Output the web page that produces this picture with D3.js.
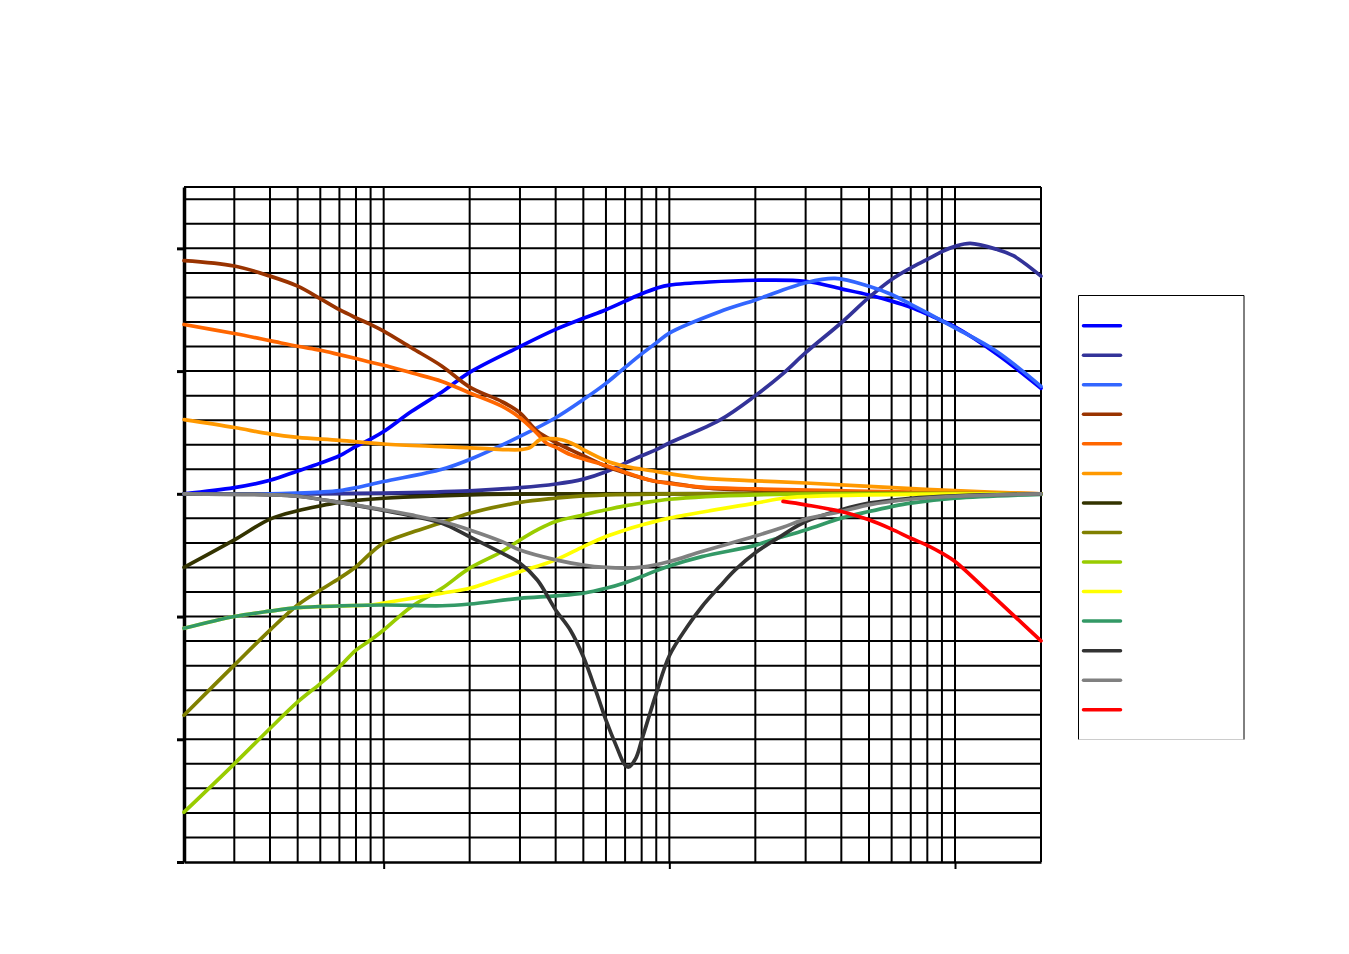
<!DOCTYPE html>
<html>
<head>
<meta charset="utf-8">
<script src="https://cdn.jsdelivr.net/npm/d3@7"></script>
<style>
  html, body { margin: 0; padding: 0; background: #ffffff; }
  svg { display: block; }
</style>
</head>
<body>
<svg id="chart" width="1349" height="954"></svg>
<script>
// ---- data (frequency in Hz, level in dB) ----
const xDomain = [20, 20000];
const yDomain = [-15, 12.5];
const xMajorTicks = [100, 1000, 10000];
const yMajorTicks = [-15, -10, -5, 0, 5, 10];
const seriesColors = ["#0000FF", "#333399", "#3366FF", "#993300", "#FF6600", "#FF9900", "#333300",
                      "#808000", "#99CC00", "#FFFF00", "#339966", "#333333", "#808080", "#FF0000"];

const s1 = [[20,0],[30,0.25],[40,0.55],[50,0.93],[60,1.25],[70,1.55],[80,1.93],[90,2.23],[100,2.54],[125,3.35],[160,4.15],[200,4.95],[300,6.0],[400,6.7],[500,7.15],[600,7.5],[700,7.85],[800,8.15],[900,8.37],[1000,8.5],[2000,8.7],[3000,8.66],[4000,8.35],[5000,8.1],[6000,7.85],[7000,7.6],[8000,7.32],[9000,7.05],[10000,6.8],[14000,5.7],[20000,4.3]];
const s2 = [[20,0],[50,0],[100,0.03],[200,0.12],[300,0.25],[400,0.4],[500,0.6],[600,0.9],[700,1.25],[800,1.55],[900,1.8],[1000,2.07],[1500,3.0],[2000,4.0],[2500,4.9],[3000,5.75],[4000,6.97],[5000,8.0],[6000,8.73],[7000,9.2],[8000,9.55],[9000,9.87],[10000,10.08],[11300,10.2],[14000,9.96],[16000,9.7],[20000,8.87]];
const s3 = [[20,0],[40,0],[50,0.03],[60,0.07],[70,0.13],[80,0.25],[100,0.5],[160,1.0],[200,1.4],[300,2.34],[400,3.1],[500,3.84],[600,4.5],[700,5.15],[800,5.7],[900,6.15],[1000,6.55],[1500,7.42],[2000,7.9],[3000,8.6],[3800,8.78],[5000,8.46],[6000,8.12],[7000,7.72],[8000,7.37],[9000,7.05],[10000,6.76],[14000,5.8],[20000,4.38]];
const s4 = [[20,9.5],[30,9.28],[40,8.87],[50,8.46],[60,7.95],[70,7.5],[80,7.17],[90,6.9],[100,6.63],[125,5.95],[160,5.2],[200,4.35],[260,3.75],[300,3.3],[345,2.55],[400,2.1],[450,1.8],[500,1.55],[600,1.12],[700,0.85],[800,0.65],[900,0.5],[1000,0.45],[1300,0.25],[2000,0.15],[5000,0.06],[20000,0]];
const s5 = [[20,6.9],[30,6.53],[40,6.24],[50,6.01],[60,5.85],[70,5.67],[80,5.51],[90,5.36],[100,5.24],[125,4.93],[160,4.58],[200,4.11],[260,3.56],[300,3.1],[345,2.45],[373,2.05],[400,1.9],[450,1.6],[500,1.42],[600,1.15],[700,0.88],[800,0.65],[900,0.5],[1000,0.42],[1300,0.27],[2000,0.2],[5000,0.1],[20000,0]];
const s6 = [[20,3.02],[30,2.7],[40,2.44],[50,2.3],[70,2.18],[100,2.03],[160,1.92],[220,1.85],[300,1.8],[325,1.88],[352,2.2],[382,2.25],[420,2.2],[470,1.98],[500,1.8],[600,1.35],[700,1.12],[800,1.0],[900,0.91],[1000,0.82],[1300,0.64],[2000,0.53],[3000,0.44],[5000,0.3],[10000,0.13],[20000,0]];
const s7 = [[20,-3.0],[30,-1.88],[40,-1.03],[50,-0.69],[60,-0.49],[70,-0.35],[80,-0.27],[100,-0.18],[200,-0.04],[500,0],[20000,0]];
const s8 = [[20,-9.02],[30,-6.98],[40,-5.55],[50,-4.53],[60,-3.92],[70,-3.44],[80,-2.97],[90,-2.42],[100,-2.01],[125,-1.58],[160,-1.17],[200,-0.79],[300,-0.35],[400,-0.18],[500,-0.08],[1000,0],[20000,0]];
const s9 = [[20,-12.97],[30,-11.0],[40,-9.56],[50,-8.48],[60,-7.73],[70,-7.05],[80,-6.37],[90,-5.96],[100,-5.55],[125,-4.6],[160,-3.85],[200,-3.03],[260,-2.35],[300,-1.88],[345,-1.47],[400,-1.13],[500,-0.86],[600,-0.65],[700,-0.49],[800,-0.38],[1000,-0.22],[2000,-0.04],[20000,0]];
const s10 = [[20,-5.48],[30,-5.0],[40,-4.78],[50,-4.64],[70,-4.57],[90,-4.53],[100,-4.45],[125,-4.26],[160,-4.05],[200,-3.85],[220,-3.7],[300,-3.17],[400,-2.69],[500,-2.15],[600,-1.74],[700,-1.47],[800,-1.27],[1000,-0.99],[2000,-0.38],[2500,-0.18],[3000,-0.11],[5000,-0.04],[20000,0]];
const s11 = [[20,-5.48],[30,-5.0],[40,-4.78],[50,-4.64],[70,-4.57],[100,-4.53],[160,-4.56],[200,-4.49],[300,-4.26],[400,-4.16],[500,-4.05],[600,-3.85],[700,-3.62],[800,-3.37],[900,-3.13],[1000,-2.94],[1300,-2.56],[2000,-2.1],[2250,-1.9],[3000,-1.47],[4000,-0.99],[5000,-0.72],[6000,-0.52],[7000,-0.38],[10000,-0.18],[20000,-0.02]];
const s12 = [[20,0],[40,-0.04],[50,-0.1],[70,-0.35],[100,-0.68],[125,-0.9],[160,-1.2],[200,-1.75],[260,-2.42],[300,-2.83],[345,-3.51],[400,-4.73],[450,-5.55],[500,-6.64],[557,-8.13],[600,-9.22],[654,-10.31],[700,-11.06],[720,-11.13],[762,-10.79],[800,-10.04],[855,-8.95],[900,-8.13],[1000,-6.6],[1150,-5.45],[1300,-4.6],[1500,-3.78],[1700,-3.1],[2000,-2.4],[2500,-1.67],[3000,-1.13],[4000,-0.65],[5000,-0.38],[7000,-0.18],[10000,-0.08],[20000,0]];
const s13 = [[20,0],[40,-0.04],[50,-0.1],[70,-0.35],[100,-0.65],[125,-0.86],[160,-1.13],[200,-1.47],[260,-1.95],[300,-2.29],[400,-2.69],[500,-2.9],[600,-3.0],[700,-3.03],[800,-2.99],[1000,-2.76],[1300,-2.35],[2000,-1.72],[2500,-1.36],[3000,-1.03],[4000,-0.72],[5000,-0.45],[7000,-0.22],[10000,-0.1],[20000,0]];
const s14 = [[2500,-0.31],[3000,-0.45],[4000,-0.72],[5000,-1.06],[6000,-1.44],[7000,-1.81],[8000,-2.1],[9000,-2.42],[10000,-2.76],[12500,-3.78],[16000,-4.94],[20000,-5.99]];

const series = [s1, s2, s3, s4, s5, s6, s7, s8, s9, s10, s11, s12, s13, s14];

// ---- layout ----
const svg = d3.select("#chart");
const plot = { left: 184, right: 1041, top: 187, bottom: 862 };

const x = d3.scaleLog().domain(xDomain).range([plot.left, plot.right]);
const y = d3.scaleLinear().domain(yDomain).range([plot.bottom, plot.top]);

// vertical gridlines: 2..9 x each decade
const xGrid = [];
for (let dec = 10; dec <= 10000; dec *= 10) {
  for (let m = 1; m <= 9; m++) {
    const v = dec * m;
    if (v > xDomain[0] && v <= xDomain[1]) xGrid.push(v);
  }
}
xGrid.push(20000);
const yGrid = d3.range(-14, 13, 1);

const grid = svg.append("g");
grid.selectAll("line.vx").data(xGrid).join("line")
  .attr("x1", d => x(d)).attr("x2", d => x(d))
  .attr("y1", plot.top).attr("y2", plot.bottom)
  .attr("stroke", "#000").attr("stroke-width", 2);
grid.selectAll("line.hy").data(yGrid).join("line")
  .attr("x1", plot.left).attr("x2", plot.right)
  .attr("y1", d => y(d)).attr("y2", d => y(d))
  .attr("stroke", "#000").attr("stroke-width", d => d === 0 ? 3 : 2);
// top border
grid.append("line")
  .attr("x1", plot.left).attr("x2", plot.right)
  .attr("y1", y(yDomain[1])).attr("y2", y(yDomain[1]))
  .attr("stroke", "#000").attr("stroke-width", 2);

// axes
const yAxis = svg.append("g")
  .attr("transform", `translate(${plot.left},0)`)
  .call(d3.axisLeft(y).tickValues(yMajorTicks).tickSize(7).tickSizeOuter(0).tickFormat(""));
yAxis.select(".domain").attr("stroke", "#000").attr("stroke-width", 3.5);
yAxis.selectAll(".tick line").attr("stroke", "#000").attr("stroke-width", 3);

const xAxis = svg.append("g")
  .attr("transform", `translate(0,${plot.bottom})`)
  .call(d3.axisBottom(x).tickValues(xMajorTicks).tickSize(7).tickSizeOuter(0).tickFormat(""));
xAxis.select(".domain").attr("stroke", "#000").attr("stroke-width", 2.5);
xAxis.selectAll(".tick line").attr("stroke", "#000").attr("stroke-width", 2);

// series lines
const line = d3.line()
  .x(d => x(d[0]))
  .y(d => y(d[1]))
  .curve(d3.curveCatmullRom.alpha(0.5));

svg.append("g").selectAll("path").data(series).join("path")
  .attr("d", d => line(d))
  .attr("fill", "none")
  .attr("stroke", (d, i) => seriesColors[i])
  .attr("stroke-width", 3.7)
  .attr("stroke-linejoin", "round")
  .attr("stroke-linecap", "round");

// legend
const lg = { x: 1078.5, y: 295.5, w: 165.5, h: 444 };
const legend = svg.append("g");
legend.append("rect")
  .attr("x", lg.x).attr("y", lg.y).attr("width", lg.w).attr("height", lg.h)
  .attr("fill", "#fff");
legend.append("path")
  .attr("d", `M${lg.x},${lg.y + lg.h} V${lg.y} H${lg.x + lg.w} V${lg.y + lg.h}`)
  .attr("fill", "none").attr("stroke", "#000").attr("stroke-width", 1);
legend.append("line")
  .attr("x1", lg.x).attr("x2", lg.x + lg.w)
  .attr("y1", lg.y + lg.h).attr("y2", lg.y + lg.h)
  .attr("stroke", "#999").attr("stroke-width", 1).attr("stroke-dasharray", "1,1");
legend.selectAll("line.item").data(seriesColors).join("line")
  .attr("class", "item")
  .attr("x1", 1083.5).attr("x2", 1120.5)
  .attr("y1", (d, i) => 325.7 + i * 29.54)
  .attr("y2", (d, i) => 325.7 + i * 29.54)
  .attr("stroke", d => d)
  .attr("stroke-width", 3.5)
  .attr("stroke-linecap", "round");
</script>
</body>
</html>
